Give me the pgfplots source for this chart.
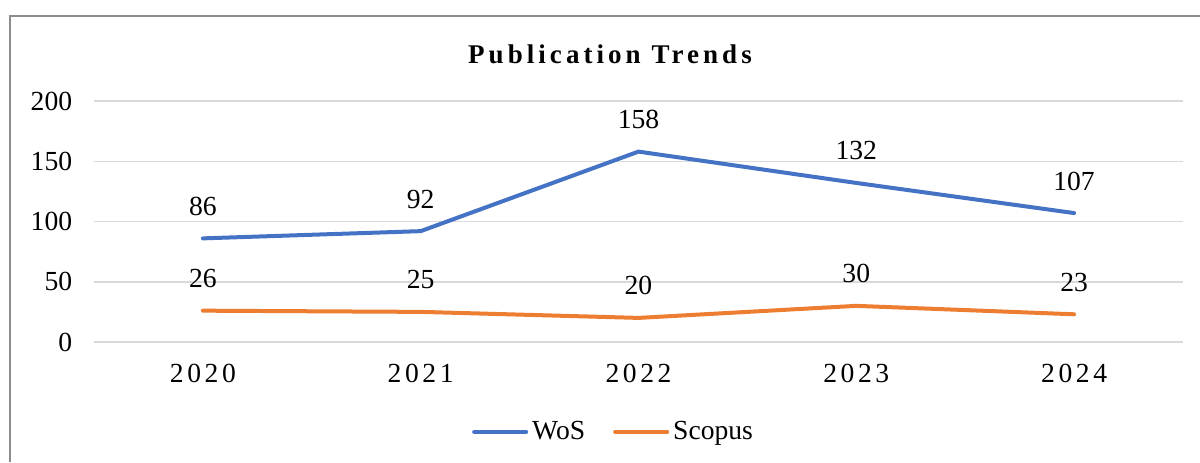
\documentclass[border=0pt]{standalone}
\usepackage{pgfplots}
\pgfplotsset{compat=1.18}
\usepackage{fontspec}
\setmainfont{Liberation Serif}
\newfontfamily\spaced[LetterSpace=13]{Liberation Serif}
\newfontfamily\titlefont[LetterSpace=15]{Liberation Serif}
\newcommand\lbl{\fontsize{13.8pt}{16pt}\selectfont}
\definecolor{wosblue}{HTML}{4472C4}
\definecolor{scorange}{HTML}{ED7D31}
\definecolor{gridgray}{HTML}{D9D9D9}
\begin{document}
\begin{tikzpicture}
\useasboundingbox (0,0) rectangle (600pt,231pt);
\draw[color=black!45, line width=1pt] (5pt,0) -- (5pt,223pt) -- (600pt,223pt);
\node[anchor=base, font=\titlefont\bfseries\fontsize{13.5pt}{16pt}\selectfont] at (305pt,199.5pt) {Publication Trends};
\begin{axis}[
 scale only axis,
 width=544.5pt, height=120.5pt,
 at={(47pt,60pt)}, anchor=south west,
 xmin=-0.5, xmax=4.5,
 ymin=0, ymax=200,
 ytick={0,50,100,150,200},
 xtick=data,
 xticklabels={2020,2021,2022,2023,2024},
 axis line style={draw=none},
 major tick length=0pt,
 ymajorgrids,
 grid style={gridgray, line width=0.75pt},
 /pgf/number format/assume math mode=true,
 ticklabel style={font=\lbl},
 xticklabel style={font=\spaced\lbl, yshift=-7.4pt},
 yticklabel style={xshift=-7.4pt},
 nodes near coords,
 every node near coord/.append style={anchor=center, yshift=16pt, font=\lbl, text=black},
 legend columns=2,
 legend style={at={(0.478,-0.373)}, anchor=center, draw=none, font=\lbl,
   /tikz/every even column/.append style={column sep=12pt}},
 legend image code/.code={\draw[#1, line cap=round] (0pt,0pt) -- (26pt,0pt);},
]
\addplot[color=wosblue, line width=2pt, line cap=round, line join=round] coordinates {
 (0,86) (1,92) (2,158) (3,132) (4,107)
};
\addlegendentry{WoS}
\addplot[color=scorange, line width=2pt, line cap=round, line join=round] coordinates {
 (0,26) (1,25) (2,20) (3,30) (4,23)
};
\addlegendentry{Scopus}
\end{axis}
\end{tikzpicture}
\end{document}
